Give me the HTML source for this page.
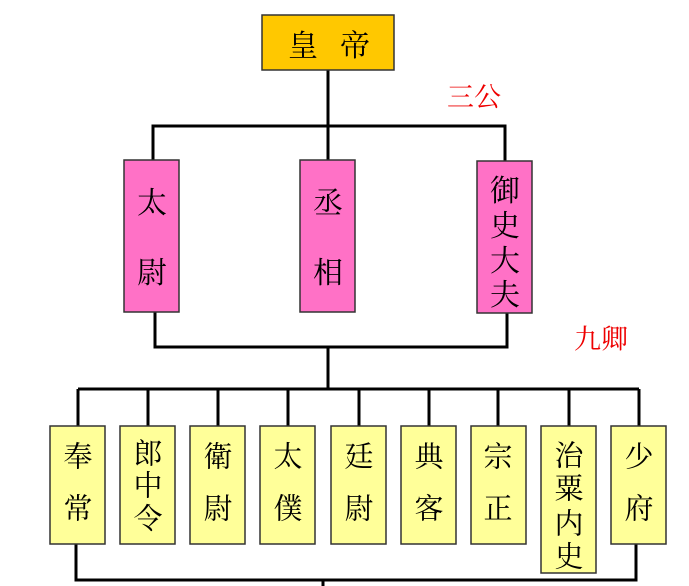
<!DOCTYPE html>
<html><head><meta charset="utf-8"><style>
html,body{margin:0;padding:0;background:#fff;width:689px;height:586px;overflow:hidden}
svg text{font-family:"Noto Serif CJK SC","Noto Serif CJK TC","Liberation Serif",serif;text-anchor:middle;dominant-baseline:central}
</style></head><body>
<svg width="689" height="586" viewBox="0 0 689 586" xmlns="http://www.w3.org/2000/svg">
<g stroke="#000" stroke-width="3" fill="none">
<line x1="328" y1="70" x2="328" y2="160"/>
<polyline points="153,160 153,126 505,126 505,161"/>
<polyline points="155,312 155,347 507,347 507,313"/>
<line x1="328" y1="347" x2="328" y2="389"/>
<line x1="78" y1="389" x2="639" y2="389"/>
<g>
<line x1="78" y1="389" x2="78" y2="426"/><line x1="148" y1="389" x2="148" y2="426"/>
<line x1="218" y1="389" x2="218" y2="426"/><line x1="288" y1="389" x2="288" y2="426"/>
<line x1="359" y1="389" x2="359" y2="426"/><line x1="429" y1="389" x2="429" y2="426"/>
<line x1="498" y1="389" x2="498" y2="426"/><line x1="569" y1="389" x2="569" y2="426"/>
<line x1="639" y1="389" x2="639" y2="426"/>
</g>
<polyline points="76,544 76,580 636,580 636,544"/>
<line x1="323" y1="580" x2="323" y2="586"/>
</g>
<rect x="262" y="15" width="132" height="55" fill="#ffc800" stroke="#333" stroke-width="1.5"/>
<text x="303" y="43" font-size="30">皇</text><text x="355" y="43" font-size="30">帝</text>
<text x="474" y="95" font-size="27" fill="#e00">三公</text>
<text x="601" y="337" font-size="27" fill="#e00">九卿</text>
<g fill="#ff71c6" stroke="#333" stroke-width="1.5">
<rect x="124" y="160" width="55" height="152"/>
<rect x="300" y="160" width="55" height="152"/>
<rect x="477" y="161" width="55" height="152"/>
</g>
<g font-size="30">
<text x="152" y="200">太</text><text x="152" y="270">尉</text>
<text x="328" y="200">丞</text><text x="328" y="270">相</text>
<text x="505" y="188">御</text><text x="505" y="223">史</text><text x="505" y="258">大</text><text x="505" y="292">夫</text>
</g>
<g fill="#ffff99" stroke="#333" stroke-width="1.5">
<rect x="50" y="426" width="55" height="118"/>
<rect x="120" y="426" width="55" height="118"/>
<rect x="190" y="426" width="55" height="118"/>
<rect x="260" y="426" width="55" height="118"/>
<rect x="331" y="426" width="55" height="118"/>
<rect x="401" y="426" width="55" height="118"/>
<rect x="471" y="426" width="55" height="118"/>
<rect x="541" y="426" width="55" height="147"/>
<rect x="611" y="426" width="55" height="118"/>
</g>
<g font-size="29">
<text x="78" y="455">奉</text><text x="78" y="507">常</text>
<text x="148" y="452">郎</text><text x="148" y="484">中</text><text x="148" y="517">令</text>
<text x="218" y="455">衛</text><text x="218" y="507">尉</text>
<text x="288" y="455">太</text><text x="288" y="507">僕</text>
<text x="359" y="455">廷</text><text x="359" y="507">尉</text>
<text x="429" y="455">典</text><text x="429" y="507">客</text>
<text x="498" y="455">宗</text><text x="498" y="507">正</text>
<text x="569" y="454">治</text><text x="569" y="487">粟</text><text x="569" y="522">内</text><text x="569" y="555">史</text>
<text x="639" y="455">少</text><text x="639" y="507">府</text>
</g>
</svg>
</body></html>
